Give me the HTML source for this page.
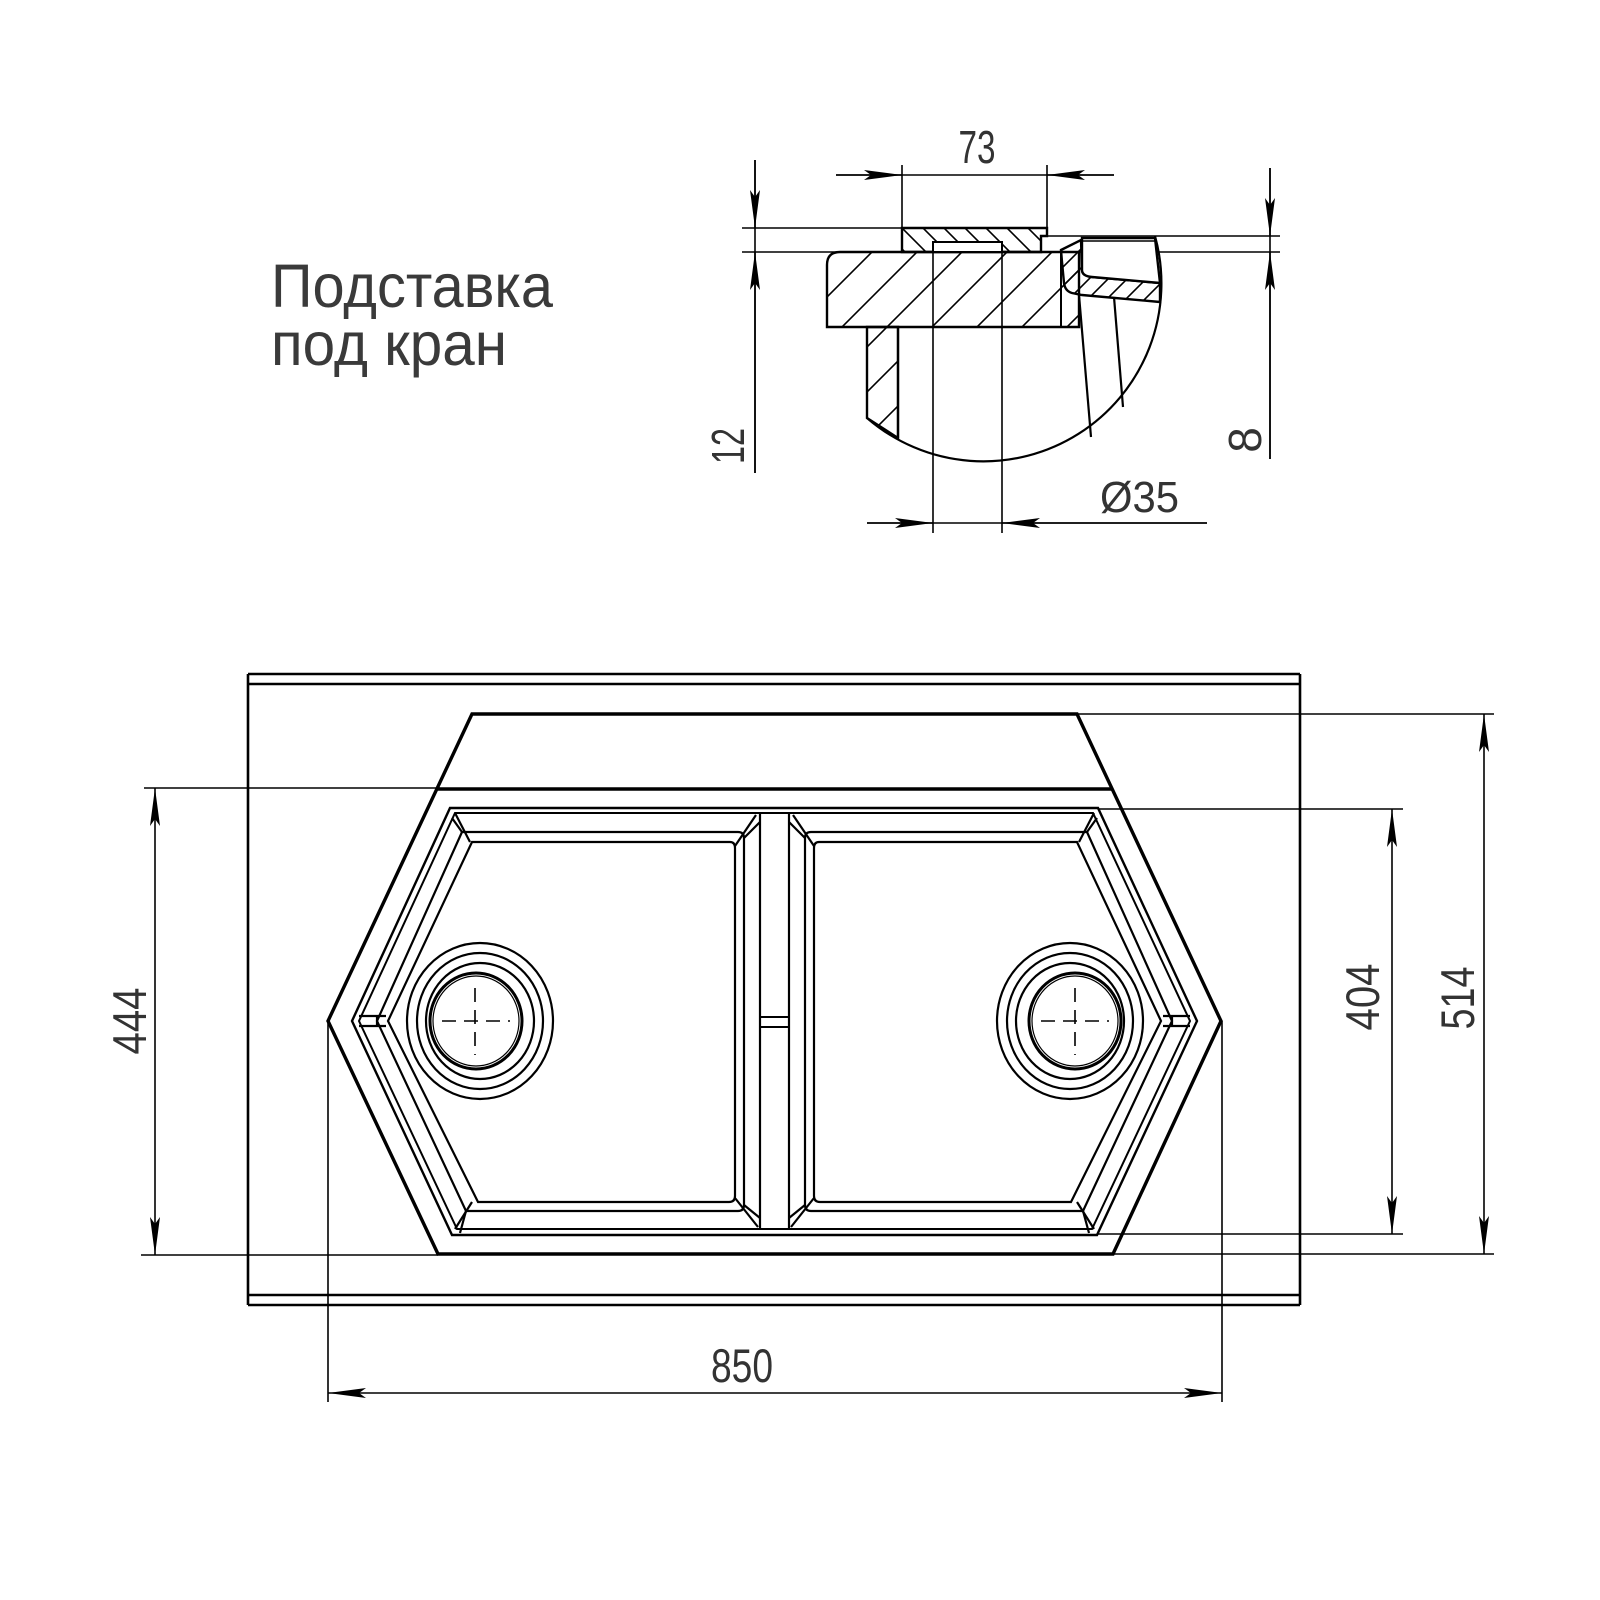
<!DOCTYPE html>
<html><head><meta charset="utf-8"><style>
html,body{margin:0;padding:0;background:#fff;}
svg{display:block;}
text{font-family:"Liberation Sans",sans-serif;fill:#333;}
</style></head><body>
<svg width="1600" height="1600" viewBox="0 0 1600 1600" xmlns="http://www.w3.org/2000/svg">
<defs>
<marker id="ar" viewBox="0 0 38 10" refX="38" refY="5" markerWidth="38" markerHeight="10" markerUnits="userSpaceOnUse" orient="auto-start-reverse">
<path d="M0,0 L38,5 L0,10 L7,5 z" fill="#000"/>
</marker>
<pattern id="h45" patternUnits="userSpaceOnUse" width="45" height="45" x="827" y="252">
<path d="M-5,5 L5,-5 M0,45 L45,0 M40,50 L50,40" stroke="#000" stroke-width="1.6"/>
</pattern>
<pattern id="hb" patternUnits="userSpaceOnUse" width="21" height="21" x="902" y="228">
<path d="M-5,16 L5,26 M0,0 L21,21 M16,-5 L26,5" stroke="#000" stroke-width="1.6"/>
</pattern>
<pattern id="hs" patternUnits="userSpaceOnUse" width="19" height="19">
<path d="M-5,5 L5,-5 M0,19 L19,0 M14,24 L24,14" stroke="#000" stroke-width="1.6"/>
</pattern>
</defs>

<!-- Title -->
<text x="271" y="307" font-size="61" textLength="282" lengthAdjust="spacingAndGlyphs" style="fill:#3a3a3a">Подставка</text>
<text x="271" y="365" font-size="61" textLength="236" lengthAdjust="spacingAndGlyphs" style="fill:#3a3a3a">под кран</text>

<!-- ===== Section detail ===== -->
<g stroke="#000" fill="none" stroke-width="1.6">
  <line x1="742" y1="228" x2="1047" y2="228"/>
  <line x1="742" y1="252" x2="1280" y2="252"/>
  <line x1="1041" y1="236" x2="1280" y2="236"/>
  <line x1="902" y1="165" x2="902" y2="252"/>
  <line x1="1047" y1="165" x2="1047" y2="228"/>
  <line x1="933" y1="242" x2="933" y2="533"/>
  <line x1="1002" y1="242" x2="1002" y2="533"/>
  <line x1="836" y1="175" x2="1114" y2="175"/>
  <line x1="836" y1="175" x2="902" y2="175" marker-end="url(#ar)"/>
  <line x1="1114" y1="175" x2="1047" y2="175" marker-end="url(#ar)"/>
  <line x1="755" y1="160" x2="755" y2="473"/>
  <line x1="755" y1="160" x2="755" y2="228" marker-end="url(#ar)"/>
  <line x1="755" y1="473" x2="755" y2="252" marker-end="url(#ar)"/>
  <line x1="1270" y1="168" x2="1270" y2="459"/>
  <line x1="1270" y1="168" x2="1270" y2="236" marker-end="url(#ar)"/>
  <line x1="1270" y1="459" x2="1270" y2="252" marker-end="url(#ar)"/>
  <line x1="867" y1="523" x2="1207" y2="523"/>
  <line x1="867" y1="523" x2="933" y2="523" marker-end="url(#ar)"/>
  <line x1="1207" y1="523" x2="1002" y2="523" marker-end="url(#ar)"/>
</g>
<path d="M840,252 L1079,252 L1079,327 L827,327 L827,265 Q827,252 840,252 z" fill="url(#h45)" stroke="#000" stroke-width="2.4"/>
<line x1="1061" y1="252" x2="1061" y2="327" stroke="#000" stroke-width="2"/>
<path d="M902,228 L1047,228 L1047,236 L1041,236 L1041,252 L902,252 z" fill="url(#hb)" stroke="#000" stroke-width="2.4"/>
<rect x="933" y="242" width="69" height="10" fill="#fff" stroke="#000" stroke-width="2"/>
<path d="M867,327 L898,327 L898,438 L867,418 z" fill="url(#h45)" stroke="#000" stroke-width="2.4"/>
<path d="M1061,250 L1081,240 L1082,270 Q1082,276 1092,277 L1160,283 L1160,302 L1082,295 L1072,293 Q1065,291 1064,283 L1062,262 z" fill="url(#hs)" stroke="#000" stroke-width="2.4"/>
<path d="M1082,238 L1155,238 L1160,283 L1092,277 Q1082,276 1082,270 z" fill="#fff" stroke="#000" stroke-width="2.4"/>
<line x1="1082" y1="241" x2="1156" y2="241" stroke="#000" stroke-width="1.6"/>
<g stroke="#000" stroke-width="2.2" fill="none">
  <path d="M867,418 A178,178 0 0 0 1155,236"/>
  <line x1="898" y1="327" x2="898" y2="438"/>
  <line x1="1079" y1="295" x2="1091" y2="437"/>
  <line x1="1114" y1="297" x2="1123" y2="407"/>
</g>
<text x="0" y="0" font-size="46" text-anchor="middle" textLength="37" lengthAdjust="spacingAndGlyphs" transform="translate(977,163)">73</text>
<text x="0" y="0" font-size="46" text-anchor="middle" textLength="36" lengthAdjust="spacingAndGlyphs" transform="translate(744,446) rotate(-90)">12</text>
<text x="0" y="0" font-size="46" text-anchor="middle" transform="translate(1261,440) rotate(-90)">8</text>
<text x="1100" y="512" font-size="44" textLength="79" lengthAdjust="spacingAndGlyphs">Ø35</text>

<!-- ===== Plan view ===== -->
<g stroke="#000" fill="none">
  <g stroke-width="2.6">
    <line x1="248" y1="674" x2="1300" y2="674"/>
    <line x1="248" y1="684" x2="1300" y2="684"/>
    <line x1="248" y1="1295" x2="1300" y2="1295"/>
    <line x1="248" y1="1305" x2="1300" y2="1305"/>
    <line x1="248" y1="674" x2="248" y2="1305"/>
    <line x1="1300" y1="674" x2="1300" y2="1305"/>
  </g>
  <polygon points="472,714 1077,714 1221,1021 1113,1254 438,1254 328,1021" stroke-width="3.4"/>
  <line x1="437" y1="789" x2="1112" y2="789" stroke-width="3.4"/>
  <polygon points="450,808 1098,808 1197,1021 1097,1235 452,1235 352,1021" stroke-width="2.4"/>
  <polygon points="455,813 1093,813 1190,1021 1092,1229 457,1229 359,1021" stroke-width="2"/>
  <line x1="760" y1="813" x2="760" y2="1229" stroke-width="2.2"/>
  <line x1="789" y1="813" x2="789" y2="1229" stroke-width="2.2"/>
  <line x1="760" y1="1017" x2="789" y2="1017" stroke-width="2"/>
  <line x1="760" y1="1027" x2="789" y2="1027" stroke-width="2"/>
  <g id="bowl" stroke-width="2.2">
    <path d="M462,832 L738,832 Q744,832 744,838 L744,1205 Q744,1211 738,1211 L466,1211 L377,1021 z"/>
    <path d="M472,842 L730,842 Q735,842 735,848 L735,1196 Q735,1202 729,1202 L478,1202 L388,1021 z"/>
    <line x1="455" y1="813" x2="470" y2="842"/>
    <line x1="452" y1="818" x2="462" y2="832"/>
    <line x1="756" y1="815" x2="735" y2="846"/>
    <line x1="760" y1="822" x2="744" y2="838"/>
    <line x1="455" y1="1229" x2="472" y2="1202"/>
    <line x1="460" y1="1233" x2="466" y2="1211"/>
    <line x1="758" y1="1227" x2="735" y2="1198"/>
    <line x1="760" y1="1218" x2="744" y2="1205"/>
    <line x1="359" y1="1016" x2="386" y2="1016"/>
    <line x1="359" y1="1026" x2="386" y2="1026"/>
    <line x1="377" y1="1016" x2="377" y2="1026"/>
  </g>
  <use href="#bowl" transform="translate(1549,0) scale(-1,1)"/>
  <g stroke-width="2.2">
    <ellipse cx="480" cy="1021" rx="73" ry="78"/>
    <ellipse cx="480" cy="1021" rx="63" ry="68"/>
    <ellipse cx="480" cy="1021" rx="54" ry="58"/>
    <ellipse cx="476" cy="1021" rx="46" ry="48" stroke-width="3"/>
    <ellipse cx="476" cy="1021" rx="43" ry="45" stroke-width="1.2"/>
    <ellipse cx="1070" cy="1021" rx="73" ry="78"/>
    <ellipse cx="1070" cy="1021" rx="63" ry="68"/>
    <ellipse cx="1070" cy="1021" rx="54" ry="58"/>
    <ellipse cx="1075" cy="1021" rx="46" ry="48" stroke-width="3"/>
    <ellipse cx="1075" cy="1021" rx="43" ry="45" stroke-width="1.2"/>
  </g>
  <g stroke-width="1.6" stroke-dasharray="14,8">
    <line x1="442" y1="1021" x2="510" y2="1021"/>
    <line x1="475" y1="988" x2="475" y2="1055"/>
    <line x1="1041" y1="1021" x2="1109" y2="1021"/>
    <line x1="1075" y1="988" x2="1075" y2="1055"/>
  </g>
  <g stroke-width="1.6">
    <line x1="144" y1="788" x2="440" y2="788"/>
    <line x1="141" y1="1255" x2="438" y2="1255"/>
    <line x1="155" y1="788" x2="155" y2="1255" marker-start="url(#ar)" marker-end="url(#ar)"/>
    <line x1="328" y1="1021" x2="328" y2="1402"/>
    <line x1="1222" y1="1021" x2="1222" y2="1402"/>
    <line x1="328" y1="1393" x2="1222" y2="1393" marker-start="url(#ar)" marker-end="url(#ar)"/>
    <line x1="1098" y1="809" x2="1403" y2="809"/>
    <line x1="1097" y1="1234" x2="1403" y2="1234"/>
    <line x1="1392" y1="809" x2="1392" y2="1234" marker-start="url(#ar)" marker-end="url(#ar)"/>
    <line x1="1077" y1="714" x2="1494" y2="714"/>
    <line x1="1113" y1="1254" x2="1494" y2="1254"/>
    <line x1="1484" y1="714" x2="1484" y2="1254" marker-start="url(#ar)" marker-end="url(#ar)"/>
  </g>
</g>
<text x="742" y="1382" font-size="47" text-anchor="middle" textLength="62" lengthAdjust="spacingAndGlyphs">850</text>
<text x="0" y="0" font-size="47" text-anchor="middle" textLength="67" lengthAdjust="spacingAndGlyphs" transform="translate(146,1021) rotate(-90)">444</text>
<text x="0" y="0" font-size="47" text-anchor="middle" textLength="67" lengthAdjust="spacingAndGlyphs" transform="translate(1379,997) rotate(-90)">404</text>
<text x="0" y="0" font-size="47" text-anchor="middle" textLength="63" lengthAdjust="spacingAndGlyphs" transform="translate(1474,998) rotate(-90)">514</text>
</svg>
</body></html>
